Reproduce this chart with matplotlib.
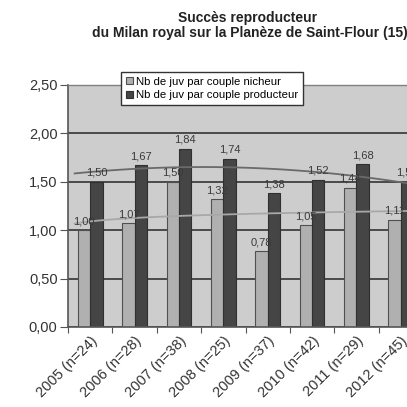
import numpy as np
import matplotlib
matplotlib.use("Agg")
import matplotlib.pyplot as plt
from matplotlib.ticker import FixedLocator

plt.rcParams['font.family'] = ['Liberation Sans', 'DejaVu Sans']

categories = ["2005 (n=24)", "2006 (n=28)", "2007 (n=38)", "2008 (n=25)",
              "2009 (n=37)", "2010 (n=42)", "2011 (n=29)", "2012 (n=45)"]
nicheur = [1.00, 1.07, 1.50, 1.32, 0.78, 1.05, 1.44, 1.11]
producteur = [1.50, 1.67, 1.84, 1.74, 1.38, 1.52, 1.68, 1.50]
series_names = ["Nb de juv par couple nicheur", "Nb de juv par couple producteur"]
yticks = [0.0, 0.5, 1.0, 1.5, 2.0, 2.5]

fig = plt.figure(figsize=(4.07, 4.07), dpi=100)
W = H = 407.0
ax = fig.add_axes([68 / W, 80 / H, 355 / W, 242 / H])
ax.set_facecolor("#cdcdcd")

x = np.arange(len(categories))
bw = 0.28
ax.set_axisbelow(True)
ax.yaxis.grid(True, color="#4a4a4a", linewidth=1.4)
b1 = ax.bar(x - bw / 2, nicheur, bw, color="#b0b0b0", edgecolor="#505050", linewidth=0.8,
            label=series_names[0], zorder=2)
b2 = ax.bar(x + bw / 2, producteur, bw, color="#454545", edgecolor="#303030", linewidth=0.8,
            label=series_names[1], zorder=2)

# trend lines: logarithmic for nicheur, polynomial (order 2) for producteur
t = x + 1.0
xx = np.linspace(-0.35, len(categories) - 0.5, 100)
bl, al = np.polyfit(np.log(t), nicheur, 1)
p2 = np.polyfit(x, producteur, 2)
ax.plot(xx, np.polyval(p2, xx), color="#6a6a6a", linewidth=1.3, zorder=3)
ax.plot(xx, al + bl * np.log(xx + 1.0), color="#a8a8a8", linewidth=1.3, zorder=3)

def fmt(v):
    return f"{v:.2f}".replace(".", ",")

for xi, v in zip(x - bw / 2, nicheur):
    ax.annotate(fmt(v), (xi, v), xytext=(0, 3), textcoords="offset points",
                ha="center", va="bottom", fontsize=8, color="#3a3a3a", zorder=4)
for xi, v in zip(x + bw / 2, producteur):
    ax.annotate(fmt(v), (xi, v), xytext=(0, 3), textcoords="offset points",
                ha="center", va="bottom", fontsize=8, color="#3a3a3a", zorder=4)

ax.set_xlim(-0.5, len(categories) - 0.5)
ax.set_ylim(0, 2.5)
ax.set_yticks(yticks)
ax.set_yticklabels([fmt(v) for v in yticks], fontsize=10.5, color="#333333")
ax.xaxis.set_major_locator(FixedLocator(np.arange(-0.5, len(categories), 1.0)))
ax.set_xticklabels([])
ax.xaxis.set_minor_locator(FixedLocator(x))
ax.set_xticklabels(categories, minor=True, rotation=45, ha="right", va="top",
                   rotation_mode="anchor", fontsize=10.5, color="#333333")
ax.tick_params(axis="x", which="minor", length=0, pad=5)
ax.tick_params(axis="x", which="major", length=4, color="#555555")
ax.tick_params(axis="y", length=5.5, color="#555555", pad=2)

for s in ["left", "bottom"]:
    ax.spines[s].set_color("#555555")
    ax.spines[s].set_linewidth(1.2)
for s in ["top", "right"]:
    ax.spines[s].set_color("#808080")
    ax.spines[s].set_linewidth(1.0)

leg = fig.legend(handles=[b1, b2], labels=series_names, loc="upper left",
                 bbox_to_anchor=(115 / W, 1 - 66 / H), fontsize=8.2, frameon=True,
                 fancybox=False, edgecolor="#333333", framealpha=1,
                 handlelength=0.6, handleheight=0.6, handletextpad=0.3,
                 borderpad=0.45, labelspacing=0.3)
leg.get_frame().set_linewidth(1.0)

fig.text(248 / W, 1 - 18 / H, "Succès reproducteur", ha="center", va="center",
         fontsize=10, fontweight="bold", color="#222222")
fig.text(250 / W, 1 - 33 / H, "du Milan royal sur la Planèze de Saint-Flour (15)",
         ha="center", va="center", fontsize=10, fontweight="bold", color="#222222")

fig.savefig("out.png", dpi=100)
